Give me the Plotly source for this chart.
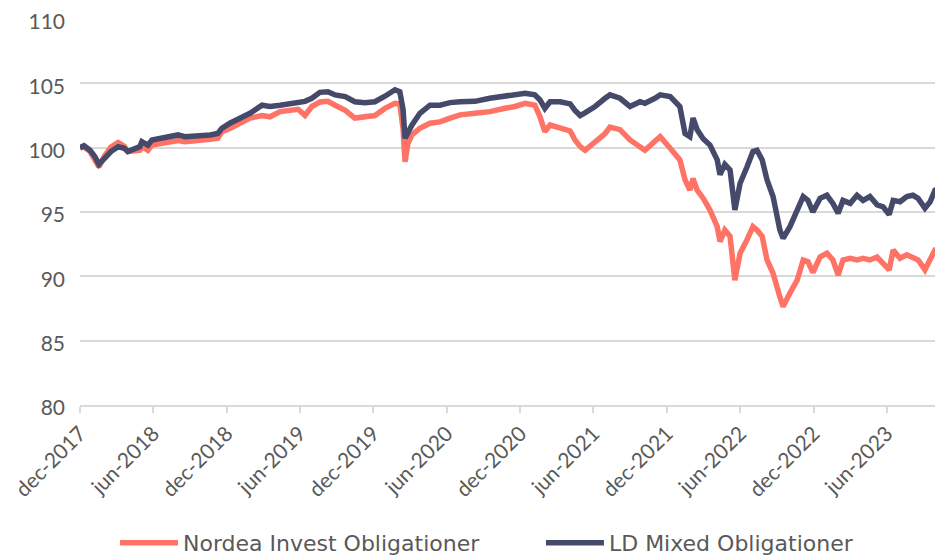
import plotly.graph_objects as go

dates = [
    "2017-12-29", "2018-01-08", "2018-01-23", "2018-02-04", "2018-02-14", "2018-02-27",
    "2018-03-16", "2018-04-03", "2018-04-18", "2018-04-27", "2018-05-15", "2018-05-27",
    "2018-06-01", "2018-06-16", "2018-06-26", "2018-07-16", "2018-08-10", "2018-08-30",
    "2018-09-16", "2018-10-04", "2018-10-24", "2018-11-18", "2018-12-07", "2018-12-17",
    "2019-01-06", "2019-01-31", "2019-02-25", "2019-03-27", "2019-04-16", "2019-05-11",
    "2019-06-05", "2019-06-25", "2019-07-12", "2019-07-29", "2019-08-18", "2019-09-07",
    "2019-09-25", "2019-10-20", "2019-11-13", "2019-12-08", "2020-01-02", "2020-01-27",
    "2020-02-21", "2020-03-04", "2020-03-12", "2020-03-17", "2020-03-24", "2020-04-03",
    "2020-04-23", "2020-05-18", "2020-06-12", "2020-07-07", "2020-08-01", "2020-09-07",
    "2020-10-14", "2020-11-21", "2020-12-16", "2021-01-10", "2021-02-03", "2021-02-16",
    "2021-02-28", "2021-03-13", "2021-04-07", "2021-05-02", "2021-05-14", "2021-05-27",
    "2021-06-08", "2021-07-03", "2021-07-28", "2021-08-09", "2021-09-03", "2021-09-28",
    "2021-10-23", "2021-11-04", "2021-11-29", "2021-12-12", "2022-01-06", "2022-01-30",
    "2022-02-12", "2022-02-24", "2022-03-04", "2022-03-14", "2022-03-29", "2022-04-15",
    "2022-05-03", "2022-05-10", "2022-05-22", "2022-06-04", "2022-06-16", "2022-06-29",
    "2022-07-16", "2022-07-31", "2022-08-10", "2022-08-23", "2022-09-04", "2022-09-19",
    "2022-10-06", "2022-10-14", "2022-10-31", "2022-11-18", "2022-12-03", "2022-12-15",
    "2022-12-27", "2023-01-14", "2023-01-31", "2023-02-15", "2023-02-28", "2023-03-12",
    "2023-03-30", "2023-04-16", "2023-05-01", "2023-05-18", "2023-06-05", "2023-06-20",
    "2023-07-05", "2023-07-15", "2023-08-01", "2023-08-18", "2023-09-02", "2023-09-15",
    "2023-10-02", "2023-10-15", "2023-10-27", "2023-11-09", "2023-11-16",
]

nordea = [
    100.0, 100.05, 99.7, 99.1, 98.5, 99.3,
    100.05, 100.4, 100.1, 99.7, 99.8, 99.8,
    100.1, 99.8, 100.2, 100.34, 100.47, 100.55,
    100.47, 100.5, 100.6, 100.65, 100.73, 101.25,
    101.5, 101.9, 102.3, 102.5, 102.4, 102.8,
    102.9, 102.98, 102.5, 103.2, 103.55, 103.6,
    103.3, 102.9, 102.3, 102.4, 102.5, 103.05,
    103.45, 103.4, 101.5, 98.9, 100.3, 101.0,
    101.5, 101.9, 102.0, 102.3, 102.55, 102.67,
    102.8, 103.06, 103.2, 103.45, 103.3, 102.4,
    101.25, 101.76, 101.5, 101.3, 100.6, 100.08,
    99.8, 100.5, 101.1, 101.6, 101.4, 100.6,
    100.08, 99.8, 100.5, 100.85, 99.95, 99.05,
    97.5, 96.7, 97.6, 96.7, 96.07, 95.15,
    93.86, 92.7, 93.6, 93.1, 89.7, 91.8,
    92.83, 93.86, 93.6, 93.1, 91.27, 90.24,
    88.4, 87.65, 88.7, 89.7, 91.27, 91.14,
    90.3, 91.5, 91.8, 91.27, 90.1, 91.27,
    91.4, 91.27, 91.4, 91.27, 91.5, 91.0,
    90.5, 92.05, 91.4, 91.67, 91.5, 91.27,
    90.5, 91.4, 92.05, 92.2, 91.95,
]

ld_mixed = [
    100.0, 100.15, 99.8, 99.3, 98.7, 99.2,
    99.7, 100.08, 99.95, 99.7, 99.95, 100.08,
    100.47, 100.2, 100.6, 100.7, 100.85, 100.99,
    100.85, 100.9, 100.85, 100.99, 101.1, 101.5,
    101.9, 102.3, 102.67, 103.3, 103.2, 103.3,
    103.45, 103.57, 103.6, 103.84, 104.3, 104.35,
    104.1, 103.97, 103.57, 103.5, 103.57, 104.0,
    104.5, 104.35, 103.0, 100.73, 101.2, 101.75,
    102.67, 103.3, 103.3, 103.5, 103.57, 103.6,
    103.84, 103.97, 104.1, 104.23, 104.1, 103.7,
    103.06, 103.57, 103.57, 103.4, 102.9, 102.5,
    102.7, 103.2, 103.84, 104.1, 103.84, 103.2,
    103.57, 103.45, 103.84, 104.1, 103.97, 103.2,
    101.1, 100.85, 102.3, 101.4, 100.7, 100.2,
    99.05, 97.9, 98.7, 98.27, 95.16, 97.23,
    98.5, 99.7, 99.8, 99.05, 97.5, 96.2,
    93.6, 92.96, 93.86, 95.03, 96.2, 95.9,
    95.0, 96.06, 96.3, 95.67, 94.9, 95.9,
    95.67, 96.3, 95.9, 96.2, 95.55, 95.4,
    94.8, 95.9, 95.8, 96.2, 96.3, 96.06,
    95.3, 95.8, 96.7, 96.85, 96.6,
]

tick_dates = ["2017-12-29", "2018-06-29", "2018-12-29", "2019-06-29", "2019-12-29",
              "2020-06-29", "2020-12-29", "2021-06-29", "2021-12-29", "2022-06-29",
              "2022-12-29", "2023-06-29"]
tick_labels = ["dec-2017", "jun-2018", "dec-2018", "jun-2019", "dec-2019", "jun-2020",
               "dec-2020", "jun-2021", "dec-2021", "jun-2022", "dec-2022", "jun-2023"]

FONT = "Lato"
LEGEND_FONT = "DejaVu Sans"
GREY = "#595959"

fig = go.Figure()
fig.add_trace(go.Scatter(x=dates, y=nordea, mode="lines", name="Nordea Invest Obligationer",
                         line=dict(color="#FF7366", width=5.5), legend="legend"))
fig.add_trace(go.Scatter(x=dates, y=ld_mixed, mode="lines", name="LD Mixed Obligationer",
                         line=dict(color="#454A6B", width=5.5), legend="legend2"))

legend_common = dict(orientation="h", xref="container", yref="container",
                     xanchor="left", y=0.0255, yanchor="middle",
                     font=dict(size=22, color=GREY, family=LEGEND_FONT),
                     itemwidth=58, bgcolor="rgba(0,0,0,0)")

fig.update_layout(
    width=935, height=549,
    margin=dict(l=72, r=0, t=11, b=152, autoexpand=False),
    paper_bgcolor="white", plot_bgcolor="white",
    font=dict(family=FONT, color=GREY, size=21),
    showlegend=True,
    legend=dict(x=0.1144, **legend_common),
    legend2=dict(x=0.570, **legend_common),
    xaxis=dict(type="date", range=["2017-12-29", "2023-11-16"], automargin=False,
               tickmode="array", tickvals=tick_dates, ticktext=tick_labels,
               tickangle=-45, showgrid=False, showline=True, linecolor="#d9d9d9",
               linewidth=2, ticks="outside", ticklen=6, tickcolor="#d9d9d9", tickwidth=2,
               ticklabeloverflow="allow",
               tickfont=dict(size=21, color=GREY, family=FONT), zeroline=False),
    yaxis=dict(range=[80, 110], dtick=5, tick0=80, showgrid=True, gridcolor="#d9d9d9",
               gridwidth=2, zeroline=False, showline=False, ticks="", automargin=False,
               ticklabeloverflow="allow", ticklabelshift=3,
               tickfont=dict(size=21, color=GREY, family=FONT), ticklabelstandoff=14),
)

fig.write_html("out.html")
